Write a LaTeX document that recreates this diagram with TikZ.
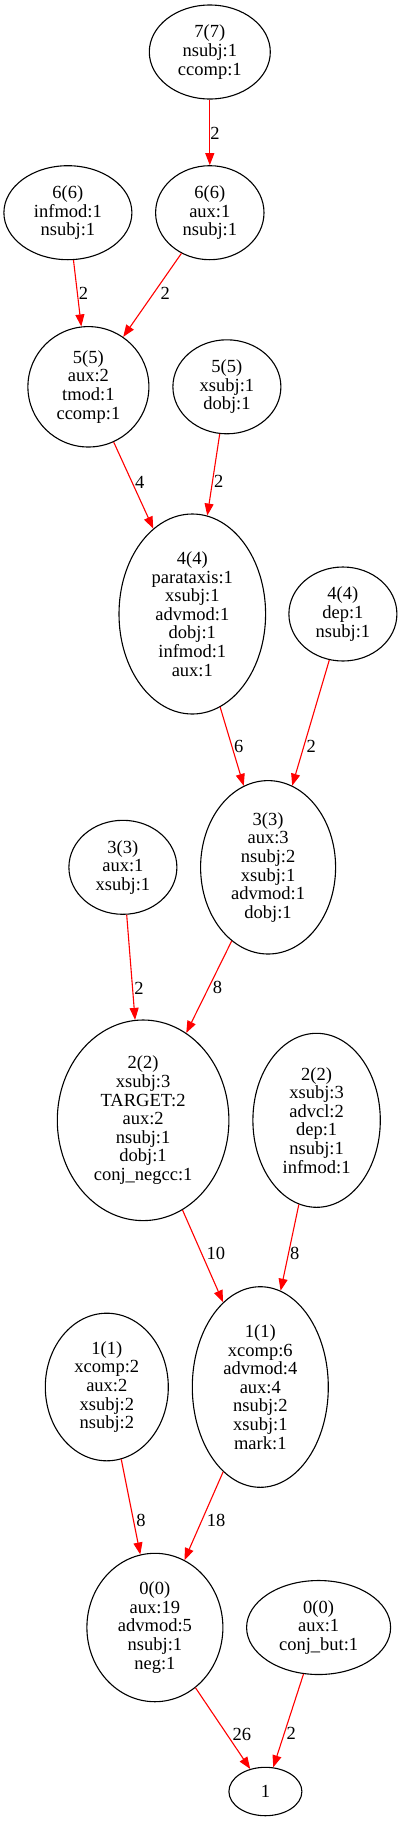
\documentclass[tikz,border=0pt]{standalone}
\usepackage{fontspec}
\setmainfont{Liberation Serif}
\usetikzlibrary{arrows.meta, positioning, shapes.geometric}

\begin{document}
\begin{tikzpicture}[
    on grid,
    every node/.style={font=\fontsize{18.5}{18.6}\selectfont},
    ell/.style 2 args={ellipse, draw, line width=1.1pt, inner sep=0pt,
      minimum width=#1, minimum height=#2, align=center},
    arr/.style={-{Triangle[length=12pt, width=9pt]}, draw=red, line width=1.1pt},
    lbl/.style={anchor=west, inner sep=0pt}]
    \useasboundingbox (0,0) rectangle (403pt,-1821pt);
    \node[ell={121pt}{94pt}] (d7) at (209.8pt,-52pt) {7(7)\\nsubj:1\\ccomp:1};
    \node[ell={108.4pt}{94pt}, below=160.7pt of d7] (d6b) {6(6)\\aux:1\\nsubj:1};
    \node[ell={128pt}{94pt}, left=141.9pt of d6b] (d6a) {6(6)\\infmod:1\\nsubj:1};
    \node[ell={121pt}{120.4pt}, below left=174.1pt and 121.4pt of d6b] (d5a) {5(5)\\aux:2\\tmod:1\\ccomp:1};
    \node[ell={108pt}{94pt}, right=138.5pt of d5a] (d5b) {5(5)\\xsubj:1\\dobj:1};
    \node[ell={146.6pt}{200pt}, below right=227.2pt and 103.9pt of d5a] (d4a) {4(4)\\parataxis:1\\xsubj:1\\advmod:1\\dobj:1\\infmod:1\\aux:1};
    \node[ell={108pt}{94pt}, right=150.6pt of d4a] (d4b) {4(4)\\dep:1\\nsubj:1};
    \node[ell={135pt}{173.4pt}, below right=253.3pt and 75.8pt of d4a] (d3b) {3(3)\\aux:3\\nsubj:2\\xsubj:1\\advmod:1\\dobj:1};
    \node[ell={108pt}{94pt}, left=145.2pt of d3b] (d3a) {3(3)\\aux:1\\xsubj:1};
    \node[ell={171.6pt}{200.6pt}, below left=253pt and 125pt of d3b] (d2a) {2(2)\\xsubj:3\\TARGET:2\\aux:2\\nsubj:1\\dobj:1\\conj\_negcc:1};
    \node[ell={127.4pt}{174pt}, right=173.5pt of d2a] (d2b) {2(2)\\xsubj:3\\advcl:2\\dep:1\\nsubj:1\\infmod:1};
    \node[ell={136pt}{200.6pt}, below right=266.7pt and 117.2pt of d2a] (d1b) {1(1)\\xcomp:6\\advmod:4\\aux:4\\nsubj:2\\xsubj:1\\mark:1};
    \node[ell={123pt}{147.6pt}, left=153.5pt of d1b] (d1a) {1(1)\\xcomp:2\\aux:2\\xsubj:2\\nsubj:2};
    \node[ell={136pt}{148.4pt}, below left=240.5pt and 105.4pt of d1b] (d0a) {0(0)\\aux:19\\advmod:5\\nsubj:1\\neg:1};
    \node[ell={144pt}{94pt}, right=163.7pt of d0a] (d0b) {0(0)\\aux:1\\conj\_but:1};
    \node[ell={73pt}{48.4pt}, below right=164pt and 110.5pt of d0a] (top) {1};
    \draw[arr] (d7) -- node[lbl, pos=.51] {2} (d6b);
    \draw[arr] (d6a) -- node[lbl, pos=.50, xshift=1pt] {2} (d5a);
    \draw[arr] (d6b) -- node[lbl, pos=.48, xshift=6.5pt] {2} (d5a);
    \draw[arr] (d5a) -- node[lbl, pos=.46, xshift=2.8pt] {4} (d4a);
    \draw[arr] (d5b) -- node[lbl, pos=.58, xshift=1pt] {2} (d4a);
    \draw[arr] (d4a) -- node[lbl, pos=.50, xshift=1.6pt] {6} (d3b);
    \draw[arr] (d4b) -- node[lbl, pos=.69, xshift=2.3pt] {2} (d3b);
    \draw[arr] (d3a) -- node[lbl, pos=.70, xshift=1.2pt] {2} (d2a);
    \draw[arr] (d3b) -- node[lbl, pos=.51, xshift=3.7pt] {8} (d2a);
    \draw[arr] (d2a) -- node[lbl, pos=.47, xshift=4.6pt] {10} (d1b);
    \draw[arr] (d2b) -- node[lbl, pos=.57, xshift=1pt] {8} (d1b);
    \draw[arr] (d1a) -- node[lbl, pos=.64, xshift=2.4pt] {8} (d0a);
    \draw[arr] (d1b) -- node[lbl, pos=.55, xshift=4.4pt] {18} (d0a);
    \draw[arr] (d0a) -- node[lbl, pos=.57, xshift=5.5pt] {26} (top);
    \draw[arr] (d0b) -- node[lbl, pos=.64, xshift=2pt] {2} (top);
  \end{tikzpicture}
\end{document}
